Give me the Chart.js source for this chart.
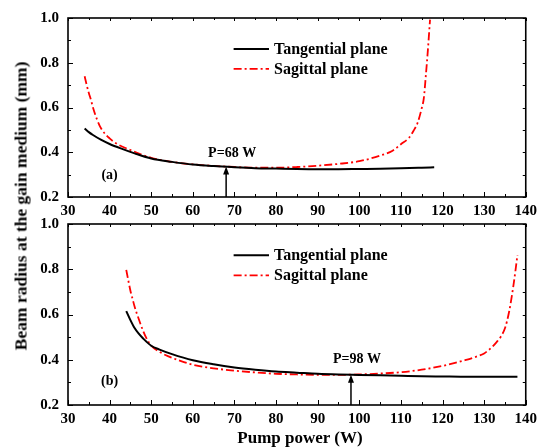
<!DOCTYPE html>
<html>
<head>
<meta charset="utf-8">
<script src="https://cdn.jsdelivr.net/npm/chart.js@4/dist/chart.umd.min.js"></script>
<style>
  html, body { margin: 0; padding: 0; background: #fff; }
  #wrap { position: relative; width: 542px; height: 448px; overflow: hidden;
          font-family: "Liberation Serif", "Times New Roman", serif; font-weight: bold; color: #000; }
  #c1 { position: absolute; left: 0; top: 0; }
  #c2 { position: absolute; left: 0; top: 206px; }
  .ytitle { position: absolute; left: 21px; top: 206px; white-space: nowrap; font-size: 17.5px;
            transform: translate(-50%, -50%) rotate(-90deg); }
  .xtitle { position: absolute; left: 300px; top: 438px; white-space: nowrap; font-size: 17px;
            transform: translate(-50%, -50%); }
</style>
</head>
<body>
<div id="wrap">
  <canvas id="c1" width="542" height="220"></canvas>
  <canvas id="c2" width="542" height="242"></canvas>
  <div class="ytitle">Beam radius at the gain medium (mm)</div>
  <div class="xtitle">Pump power (W)</div>
</div>
<script>
// Axis ticks
const xTicks = [30, 40, 50, 60, 70, 80, 90, 100, 110, 120, 130, 140];
const yTicks = [0.2, 0.4, 0.6, 0.8, 1.0];

const seriesNames = ['Tangential plane', 'Sagittal plane'];

// Panel (a): beam radius (mm) vs pump power (W)
const powerTanA  = [34, 35, 36, 38, 40, 43, 46, 50, 55, 60, 65, 70, 75, 80, 85, 90, 95, 100, 105, 110, 115, 118];
const radiusTanA = [0.506, 0.49, 0.477, 0.455, 0.437, 0.415, 0.395, 0.372, 0.357, 0.345, 0.338, 0.333, 0.329, 0.327, 0.325, 0.324, 0.324, 0.325, 0.326, 0.328, 0.331, 0.333];
const powerSagA  = [34, 34.5, 35, 35.5, 36, 37, 38, 40, 42, 45, 50, 55, 60, 65, 70, 75, 80, 85, 90, 95, 100, 105, 108, 110, 112, 113, 114, 115, 115.5, 116, 116.5, 117];
const radiusSagA = [0.74, 0.70, 0.665, 0.635, 0.60, 0.545, 0.505, 0.462, 0.435, 0.41, 0.375, 0.357, 0.346, 0.339, 0.334, 0.331, 0.331, 0.334, 0.34, 0.348, 0.36, 0.385, 0.407, 0.436, 0.466, 0.495, 0.531, 0.597, 0.641, 0.745, 0.861, 0.993];

// Panel (b)
const powerTanB  = [44, 45, 46, 47, 48, 50, 52, 55, 60, 65, 70, 75, 80, 85, 90, 95, 100, 105, 110, 115, 120, 125, 130, 135, 138];
const radiusTanB = [0.615, 0.575, 0.54, 0.515, 0.495, 0.462, 0.445, 0.425, 0.398, 0.38, 0.366, 0.356, 0.348, 0.343, 0.338, 0.335, 0.333, 0.331, 0.329, 0.327, 0.326, 0.325, 0.325, 0.325, 0.325];
const powerSagB  = [44, 44.5, 45, 45.5, 46, 47, 48, 49, 50, 52, 54, 57, 60, 65, 70, 75, 80, 85, 90, 95, 100, 105, 110, 115, 120, 123, 125, 128, 130, 132, 133, 134, 135, 136, 137, 137.5, 138];
const radiusSagB = [0.797, 0.75, 0.705, 0.67, 0.635, 0.58, 0.53, 0.49, 0.462, 0.435, 0.416, 0.395, 0.378, 0.362, 0.352, 0.344, 0.338, 0.335, 0.333, 0.333, 0.335, 0.339, 0.345, 0.356, 0.373, 0.386, 0.396, 0.413, 0.428, 0.458, 0.478, 0.502, 0.539, 0.612, 0.723, 0.79, 0.863];

// Marked operating points (pump power, radius at the arrow tip)
const markPower  = [68, 98];
const markRadius = [0.336, 0.334];
const markLabels = ['P=68 W', 'P=98 W'];
const panelTags  = ['(a)', '(b)'];

const FONT = '"Liberation Serif", "Times New Roman", serif';
const RED = '#ff0000';

function pts(xs, ys) { return xs.map((x, i) => ({ x: x, y: ys[i] })); }

// Frame, inward ticks, legend and annotations for one panel
function panelPlugin(idx) {
  return {
    id: 'panelDecor' + idx,
    afterDatasetsDraw(chart) {
      const ctx = chart.ctx, a = chart.chartArea;
      const sx = chart.scales.x, sy = chart.scales.y;
      ctx.save();
      ctx.strokeStyle = '#000';
      ctx.fillStyle = '#000';

      // inward ticks: majors at labelled values, minors half-way between
      ctx.lineWidth = 1;
      ctx.beginPath();
      xTicks.forEach((v, i) => {
        const px = Math.round(sx.getPixelForValue(v)) + 0.5;
        ctx.moveTo(px, a.bottom); ctx.lineTo(px, a.bottom - 5);
        ctx.moveTo(px, a.top); ctx.lineTo(px, a.top + 3);
        if (i < xTicks.length - 1) {
          const m = Math.round(sx.getPixelForValue((v + xTicks[i + 1]) / 2)) + 0.5;
          ctx.moveTo(m, a.bottom); ctx.lineTo(m, a.bottom - 3);
          ctx.moveTo(m, a.top); ctx.lineTo(m, a.top + 2);
        }
      });
      yTicks.forEach((v, i) => {
        const py = Math.round(sy.getPixelForValue(v)) + 0.5;
        ctx.moveTo(a.left, py); ctx.lineTo(a.left + 5, py);
        ctx.moveTo(a.right, py); ctx.lineTo(a.right - 3, py);
        if (i < yTicks.length - 1) {
          const m = Math.round(sy.getPixelForValue((v + yTicks[i + 1]) / 2)) + 0.5;
          ctx.moveTo(a.left, m); ctx.lineTo(a.left + 3, m);
          ctx.moveTo(a.right, m); ctx.lineTo(a.right - 3, m);
        }
      });
      ctx.stroke();

      // plot frame
      ctx.lineWidth = 1.6;
      ctx.strokeRect(a.left, a.top, a.right - a.left, a.bottom - a.top);

      // legend
      const lx0 = sx.getPixelForValue(69.8), lx1 = sx.getPixelForValue(78.3), tx = sx.getPixelForValue(79.5);
      const rows = [sy.getPixelForValue(0.862), sy.getPixelForValue(0.773)];
      ctx.font = 'bold 16px ' + FONT;
      ctx.textBaseline = 'middle';
      ctx.textAlign = 'left';
      chart.data.datasets.forEach((ds, i) => {
        ctx.save();
        ctx.strokeStyle = ds.borderColor;
        ctx.lineWidth = ds.borderWidth;
        ctx.setLineDash(ds.borderDash || []);
        ctx.beginPath();
        ctx.moveTo(lx0, rows[i]); ctx.lineTo(lx1, rows[i]);
        ctx.stroke();
        ctx.restore();
        ctx.fillText(ds.label, tx, rows[i] + 1);
      });

      // arrow marking the crossing point
      const ax = sx.getPixelForValue(markPower[idx]);
      const tipY = sy.getPixelForValue(markRadius[idx]);
      ctx.lineWidth = 1.5;
      ctx.beginPath();
      ctx.moveTo(ax, a.bottom); ctx.lineTo(ax, tipY + 6);
      ctx.stroke();
      ctx.beginPath();
      ctx.moveTo(ax, tipY); ctx.lineTo(ax - 3, tipY + 8); ctx.lineTo(ax + 3, tipY + 8); ctx.closePath();
      ctx.fill();

      ctx.font = 'bold 14px ' + FONT;
      ctx.textAlign = 'center';
      ctx.fillText(markLabels[idx], ax + 6, sy.getPixelForValue(idx === 0 ? 0.393 : 0.40));
      ctx.fillText(panelTags[idx], sx.getPixelForValue(40), sy.getPixelForValue(idx === 0 ? 0.296 : 0.303));
      ctx.restore();
    }
  };
}

function makePanel(canvasId, idx, tan, sag, padTop, axisH) {
  return new Chart(document.getElementById(canvasId), {
    type: 'line',
    data: {
      datasets: [
        { label: seriesNames[0], data: tan, borderColor: '#000', borderWidth: 2,
          pointRadius: 0, cubicInterpolationMode: 'monotone', fill: false },
        { label: seriesNames[1], data: sag, borderColor: RED, borderWidth: 1.8,
          borderDash: [8, 3, 2, 3], pointRadius: 0, cubicInterpolationMode: 'monotone', fill: false }
      ]
    },
    options: {
      responsive: false,
      animation: false,
      devicePixelRatio: 1,
      layout: { padding: { left: 0, right: 10, top: padTop, bottom: 0 } },
      plugins: { legend: { display: false }, tooltip: { enabled: false } },
      scales: {
        x: {
          type: 'linear', min: 30, max: 140,
          afterBuildTicks: s => { s.ticks = xTicks.map(v => ({ value: v })); },
          afterFit: s => { s.height = axisH; },
          grid: { display: false, drawTicks: false },
          border: { display: false },
          ticks: { padding: 5, color: '#000', font: { family: FONT, size: 15, weight: 'bold' },
                   maxRotation: 0, autoSkip: false }
        },
        y: {
          type: 'linear', min: 0.2, max: 1.0,
          afterBuildTicks: s => { s.ticks = yTicks.map(v => ({ value: v })); },
          afterFit: s => { s.width = 68; },
          grid: { display: false, drawTicks: false },
          border: { display: false },
          ticks: { padding: 9, color: '#000', font: { family: FONT, size: 15, weight: 'bold' },
                   callback: v => Number(v).toFixed(1) }
        }
      }
    },
    plugins: [panelPlugin(idx)]
  });
}

makePanel('c1', 0, pts(powerTanA, radiusTanA), pts(powerSagA, radiusSagA), 15, 23);
makePanel('c2', 1, pts(powerTanB, radiusTanB), pts(powerSagB, radiusSagB), 18, 43);
</script>
</body>
</html>
